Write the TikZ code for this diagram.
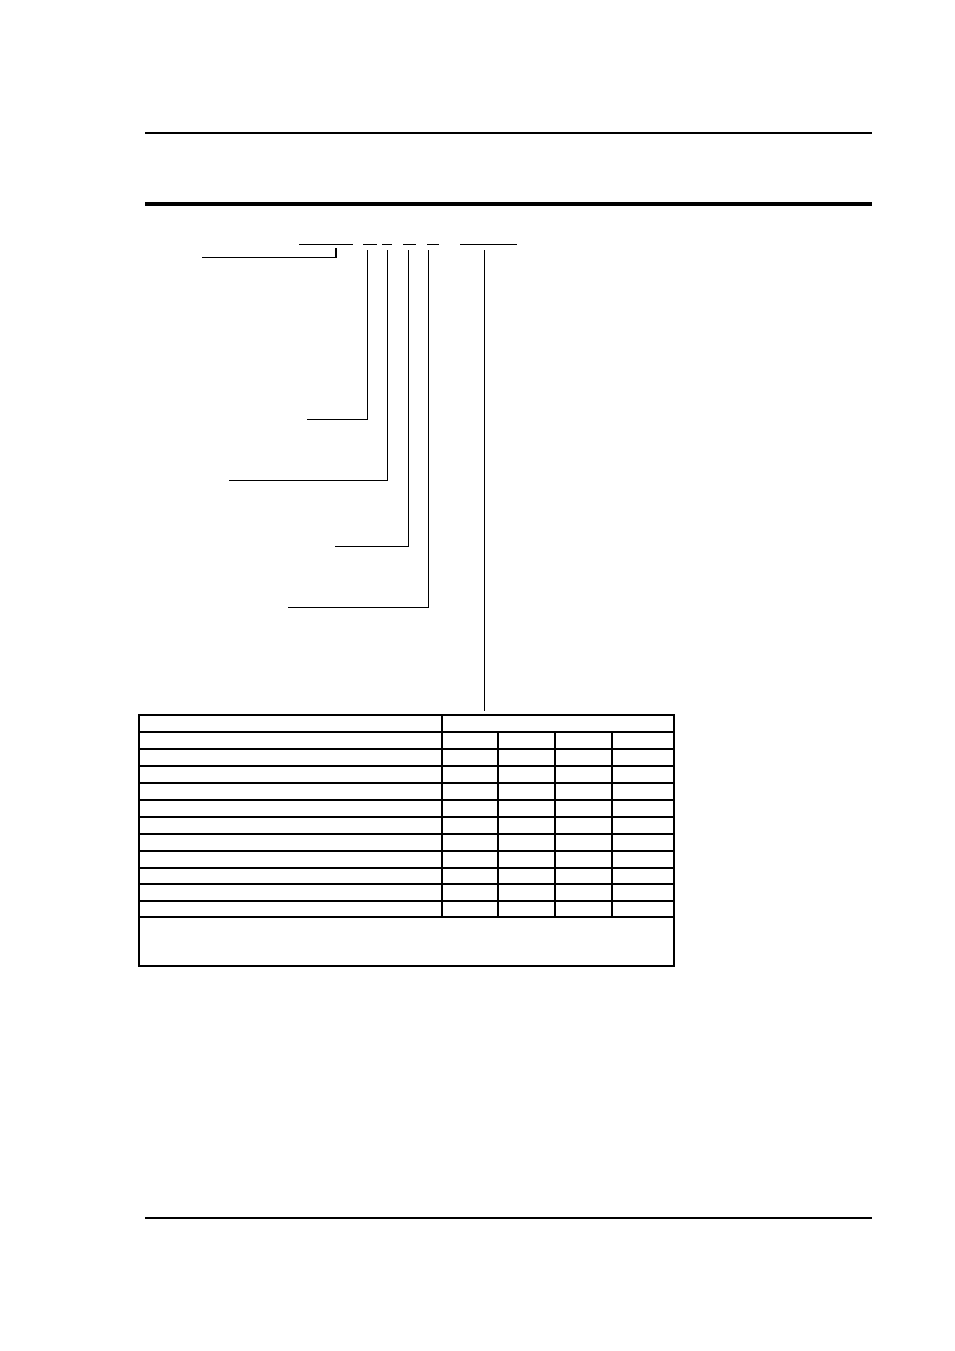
\documentclass[tikz,border=0pt]{standalone}
\usetikzlibrary{calc}
\tikzset{>=latex}
\tikzset{
  rule/.style={black,line width=1.6pt},
  heavyrule/.style={black,line width=4pt},
  thinrule/.style={black,line width=1.2pt},
  field/.style={black,line width=1pt},
  leader/.style={black,line width=1pt},
  grid/.style={black,line width=1.2pt}
}

\begin{document}
\begin{tikzpicture}[x=1pt,y=-1pt]
            \useasboundingbox (0,0) rectangle (954,1351);
            % page rules
            \draw[rule] (145,133) -- (872,133);
            \draw[heavyrule] (145,204) -- (872,204);
            \draw[thinrule] (145,1218) -- (872,1218);
            % code fields
            \coordinate (fa) at (336,244);
            \coordinate (fb) at (367,244);
            \coordinate (fc) at (387,244);
            \coordinate (fd) at (408,244);
            \coordinate (fe) at (428,244);
            \coordinate (ff) at (484,244);
            \draw[field] (299,244) -- (353,244);
            \draw[field] (363,244) -- (377,244);
            \draw[field] (382,244) -- (392,244);
            \draw[field] (403,244) -- (416,244);
            \draw[field] (427,244) -- (439,244);
            \draw[field] (460,244) -- (517,244);
            % leaders
            \coordinate (la) at (202,257);
            \coordinate (lb) at (307,419);
            \coordinate (lc) at (229,480);
            \coordinate (ld) at (335,546);
            \coordinate (le) at (288,607);
            \coordinate (lf) at (484,711);
            \coordinate (ka) at (fa |- la);
            \draw[leader,line width=2pt] ($(fa)+(0,4)$) -- ($(ka)+(0,0.5)$);
            \draw[leader] (ka) -- (la);
            \draw[leader] ($(fb)+(0,6)$) -- (fb |- lb) -- (lb);
            \draw[leader] ($(fc)+(0,6)$) -- (fc |- lc) -- (lc);
            \draw[leader] ($(fd)+(0,6)$) -- (fd |- ld) -- (ld);
            \draw[leader] ($(fe)+(0,6)$) -- (fe |- le) -- (le);
            \draw[leader] ($(ff)+(0,6)$) -- (lf);
            % table
            \draw[grid] (139,715) rectangle (674,966);
            \draw[grid] (139,732) -- (674,732);
            \draw[grid] (139,749) -- (674,749);
            \draw[grid] (139,766) -- (674,766);
            \draw[grid] (139,783) -- (674,783);
            \draw[grid] (139,800) -- (674,800);
            \draw[grid] (139,817) -- (674,817);
            \draw[grid] (139,834) -- (674,834);
            \draw[grid] (139,851) -- (674,851);
            \draw[grid] (139,868) -- (674,868);
            \draw[grid] (139,884) -- (674,884);
            \draw[grid] (139,901) -- (674,901);
            \draw[grid] (139,917) -- (674,917);
            \draw[grid] (442,715) -- (442,917);
            \draw[grid] (498,732) -- (498,917);
            \draw[grid] (555,732) -- (555,917);
            \draw[grid] (612,732) -- (612,917);
        \end{tikzpicture}
\end{document}
